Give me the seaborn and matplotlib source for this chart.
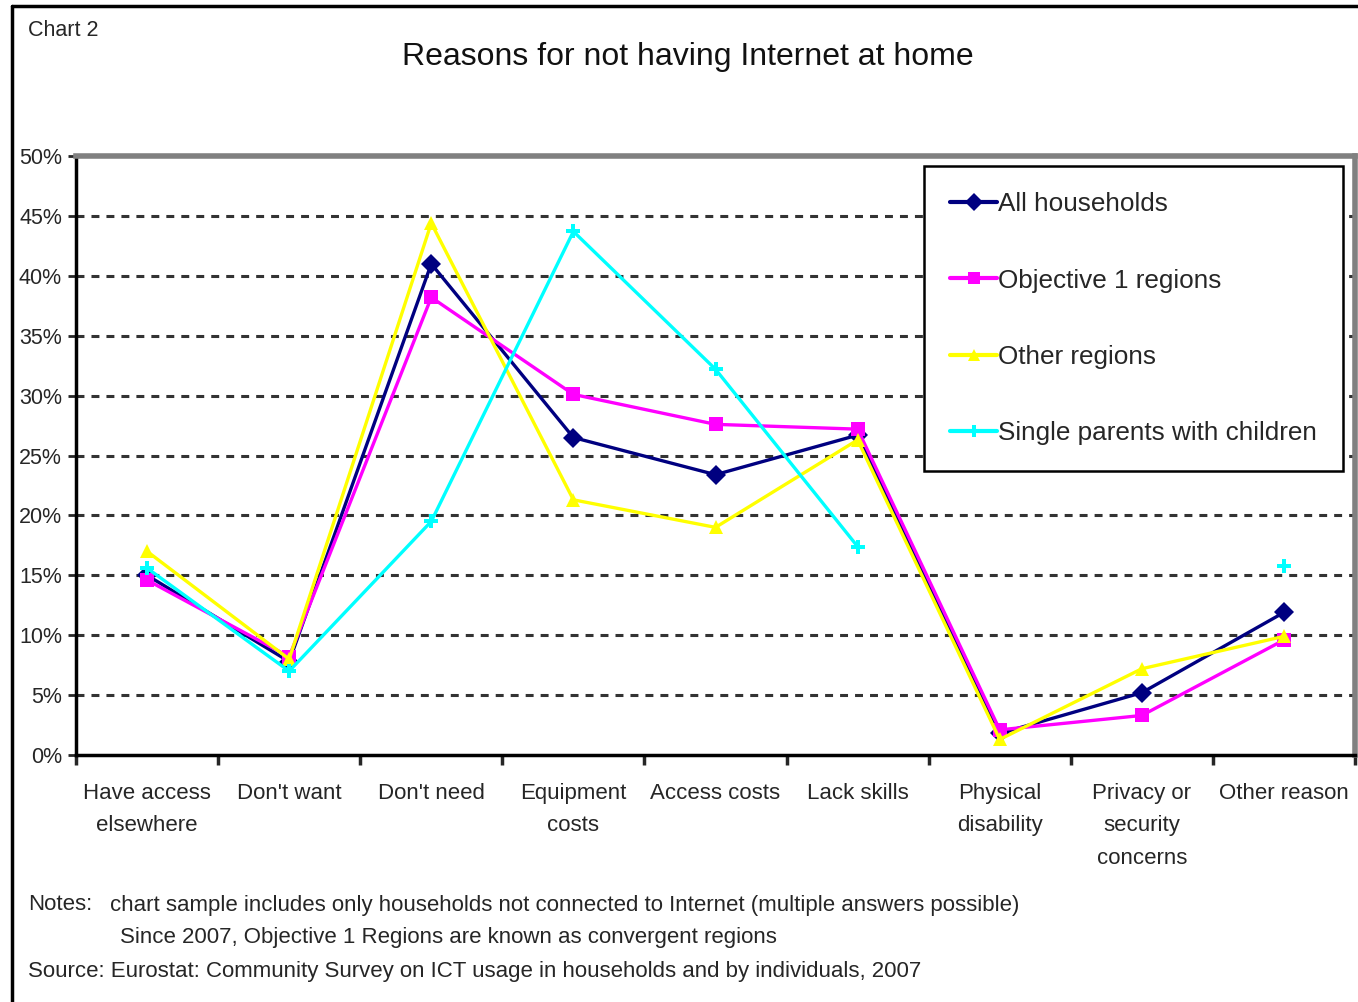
import numpy as np
import pandas as pd
import matplotlib
matplotlib.use("Agg")
import matplotlib.pyplot as plt
from matplotlib.lines import Line2D
import seaborn as sns

categories = ["Have access\nelsewhere", "Don't want", "Don't need", "Equipment\ncosts",
              "Access costs", "Lack skills", "Physical\ndisability",
              "Privacy or\nsecurity\nconcerns", "Other reason"]
all_households = [15.0, 7.8, 41.0, 26.5, 23.4, 26.7, 1.8, 5.2, 11.9]
objective1 = [14.6, 8.2, 38.2, 30.1, 27.6, 27.2, 2.1, 3.3, 9.6]
other_regions = [17.0, 8.0, 44.4, 21.3, 19.0, 26.3, 1.3, 7.2, 9.9]
single_parents = [15.6, 7.0, 19.5, 43.7, 32.2, 17.4, np.nan, np.nan, 15.8]
series_names = ["All households", "Objective 1 regions", "Other regions",
                "Single parents with children"]
y_ticks = [0, 5, 10, 15, 20, 25, 30, 35, 40, 45, 50]

colors = ["#000080", "#FF00FF", "#FFFF00", "#00FFFF"]
markers = ["D", "s", "^", "P"]

# long table, with a segment id so the missing points break the line
frames = []
for name, vals in zip(series_names, [all_households, objective1, other_regions, single_parents]):
    s = pd.Series(vals, dtype=float)
    frames.append(pd.DataFrame({"pos": np.arange(len(categories)), "value": s,
                                "series": name, "seg": s.isna().cumsum()}))
df = pd.concat(frames).dropna(subset=["value"])

sns.set_style("white")
plt.rcParams["font.family"] = ["Liberation Sans", "DejaVu Sans"]

fig = plt.figure(figsize=(13.58, 10.02), dpi=100)
ax = fig.add_axes([76 / 1358, 1 - 755 / 1002, (1355 - 76) / 1358, (755 - 156) / 1002])

for y in y_ticks[1:-1]:
    ax.axhline(y, color="#333333", lw=2.2, dashes=(2.6, 2.3), zorder=0)

sns.lineplot(data=df, x="pos", y="value", hue="series", style="series", units="seg",
             estimator=None, palette=colors, markers=markers, dashes=False,
             hue_order=series_names, style_order=series_names,
             lw=2.4, markersize=10, markeredgewidth=0, ax=ax, legend=False, zorder=3)

ax.set_xlim(-0.5, len(categories) - 0.5)
ax.set_ylim(0, 50)
ax.set_xlabel("")
ax.set_ylabel("")

ax.set_yticks(y_ticks)
ax.set_yticklabels([f"{v}%" for v in y_ticks], fontsize=15.5)
ax.tick_params(axis="y", direction="out", length=6, width=2, pad=4, left=True)

ax.set_xticks(np.arange(len(categories) + 1) - 0.5)
ax.set_xticklabels([])
ax.set_xticks(np.arange(len(categories)), minor=True)
ax.set_xticklabels(categories, minor=True, fontsize=16, linespacing=1.72)
ax.tick_params(axis="x", which="major", direction="out", length=7, width=2.5, bottom=True)
ax.tick_params(axis="x", which="minor", length=0, pad=20)

for side in ["top", "right"]:
    ax.spines[side].set_color("#808080")
    ax.spines[side].set_linewidth(4)
for side in ["left", "bottom"]:
    ax.spines[side].set_color("black")
    ax.spines[side].set_linewidth(2.5)

handles = [Line2D([0], [0], color=c, marker=m, lw=3, markersize=9, markeredgewidth=0)
           for c, m in zip(colors, markers)]
leg = ax.legend(handles, series_names, loc="upper left", bbox_to_anchor=(0.663, 0.983),
                fontsize=18.8, frameon=True, fancybox=False, framealpha=1,
                edgecolor="black", borderpad=1.0, labelspacing=2.0,
                handlelength=1.8, handletextpad=0.05, borderaxespad=0)
leg.get_frame().set_linewidth(1.8)
leg.set_zorder(5)

fig.text(0.5066, 1 - 57 / 1002, "Reasons for not having Internet at home",
         ha="center", va="center", fontsize=23, color="#111111")
fig.text(28 / 1358, 1 - 30 / 1002, "Chart 2", ha="left", va="center", fontsize=15.5)

fig.text(28 / 1358, 1 - 905 / 1002, "Notes:", ha="left", va="center", fontsize=16)
fig.text(110 / 1358, 1 - 905 / 1002,
         "chart sample includes only households not connected to Internet (multiple answers possible)",
         ha="left", va="center", fontsize=16)
fig.text(120 / 1358, 1 - 938 / 1002,
         "Since 2007, Objective 1 Regions are known as convergent regions",
         ha="left", va="center", fontsize=16)
fig.text(28 / 1358, 1 - 971 / 1002,
         "Source: Eurostat: Community Survey on ICT usage in households and by individuals, 2007",
         ha="left", va="center", fontsize=16)

# outer chart frame (left and top edges)
fig.add_artist(Line2D([12 / 1358, 12 / 1358], [0, 1 - 6 / 1002], color="black", lw=2.5,
                      transform=fig.transFigure))
fig.add_artist(Line2D([12 / 1358, 1], [1 - 6 / 1002, 1 - 6 / 1002], color="black", lw=2.5,
                      transform=fig.transFigure))

fig.savefig("out.png", dpi=100)
